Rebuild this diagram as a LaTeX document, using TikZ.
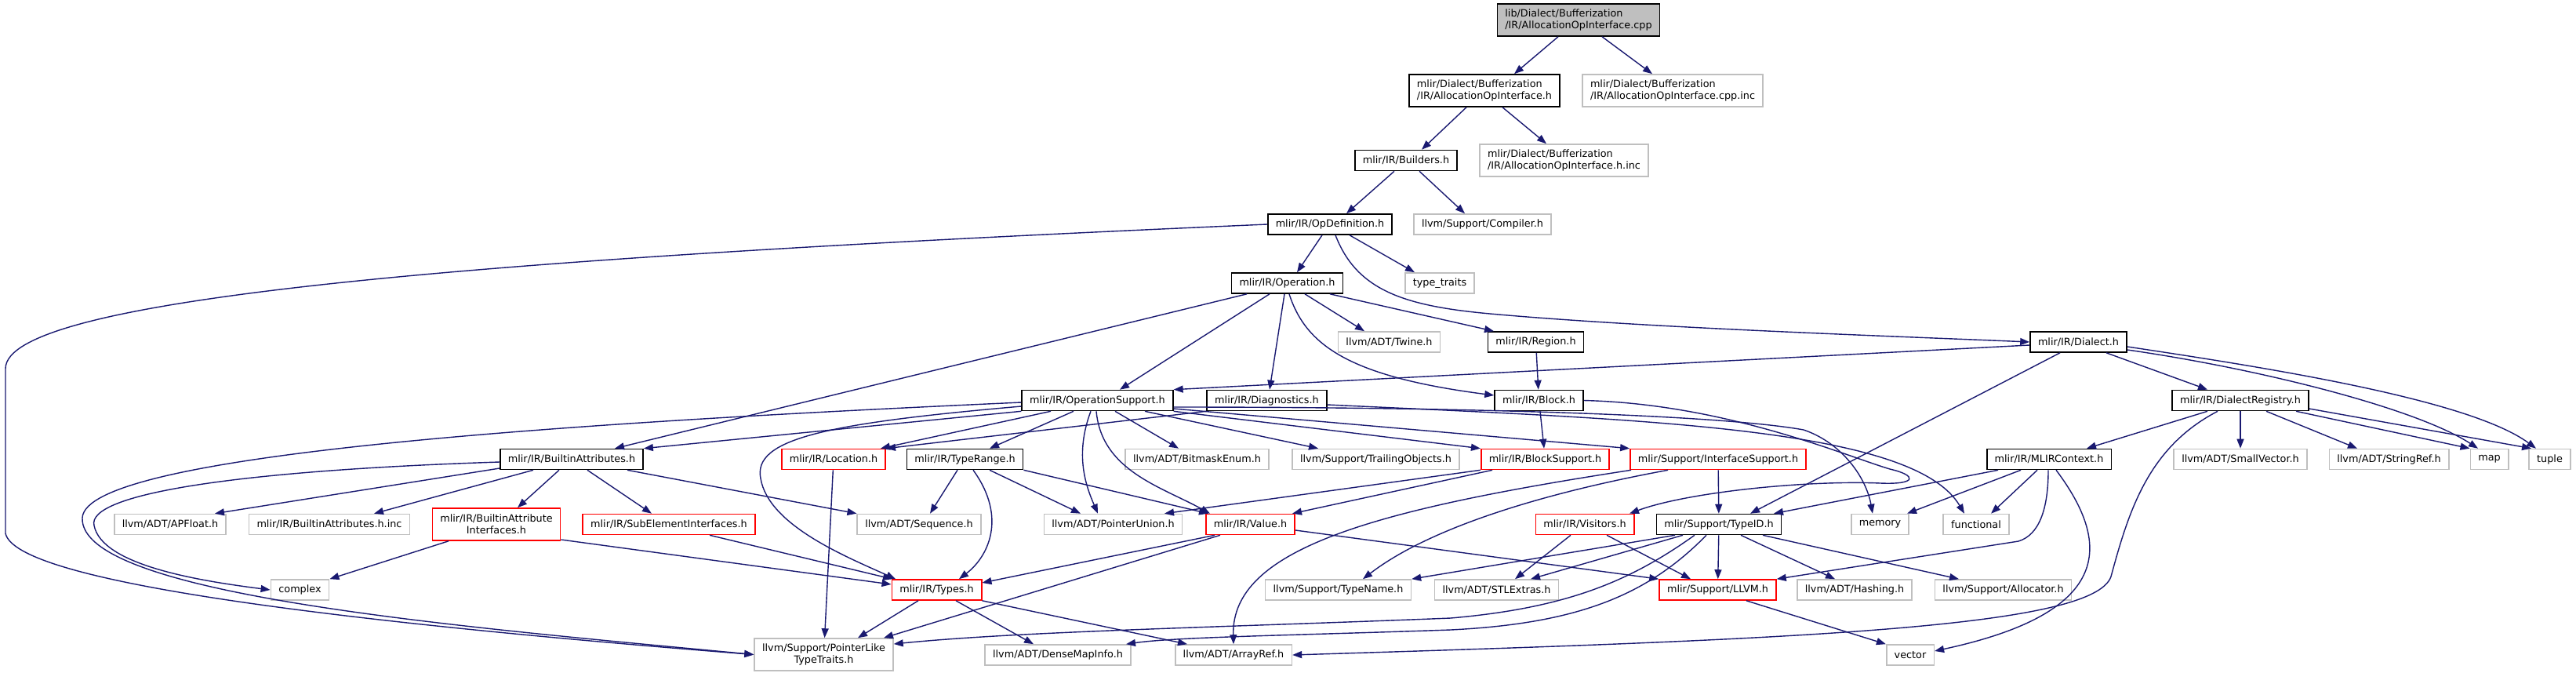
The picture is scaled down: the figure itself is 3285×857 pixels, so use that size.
\documentclass[tikz,border=0pt]{standalone}
\usepackage{fontspec}
\setmainfont{DejaVu Sans}
\usepackage{xcolor}
\usepackage{tikz}
\usetikzlibrary{arrows.meta,positioning}

\definecolor{edgeblue}{HTML}{191970}
\definecolor{boxgray}{HTML}{BFBFBF}
\definecolor{cutred}{HTML}{FF0000}

\begin{document}
\begin{tikzpicture}[x=0.5pt, y=-0.5pt,
        file/.style={rectangle, draw=black, line width=0.8pt, fill=white, inner xsep=5pt, inner ysep=0pt, minimum height=13pt, font=\fontsize{6.4}{7.6}\selectfont},
        extfile/.style={file, draw=boxgray},
        cutfile/.style={file, draw=cutred},
        rootfile/.style={file, fill=boxgray},
        twoline/.style={align=left, minimum height=20.5pt},
        twolinec/.style={align=center, minimum height=20.5pt},
        link/.style={-{Triangle[length=6pt,width=4.5pt]}, draw=edgeblue, line width=0.7pt}]

        \useasboundingbox (0,0) rectangle (3285,857);

        % Top of the graph
        \node[rootfile, twoline] (root) at (2013,25.5) {lib/Dialect/Bufferization\\/IR/AllocationOpInterface.cpp};
        \node[file, twoline] (aoih) at (1893,115.5) {mlir/Dialect/Bufferization\\/IR/AllocationOpInterface.h};
        \node[extfile, twoline] (cppinc) at (2133,115.5) {mlir/Dialect/Bufferization\\/IR/AllocationOpInterface.cpp.inc};
        \node[file] (builders) at (1793,204.5) {mlir/IR/Builders.h};
        \node[extfile, twoline] (hinc) at (1994.5,204.5) {mlir/Dialect/Bufferization\\/IR/AllocationOpInterface.h.inc};
        \node[file] (opdef) at (1696,286) {mlir/IR/OpDefinition.h};
        \node[extfile] (compiler) at (1890.5,286) {llvm/Support/Compiler.h};
        \node[file] (operation) at (1641.5,361) {mlir/IR/Operation.h};
        \node[extfile] (typetraits) at (1836,361) {type\_traits};
        \node[extfile] (twine) at (1771.5,436) {llvm/ADT/Twine.h};
        \node[file] (region) at (1958.5,436) {mlir/IR/Region.h};
        \node[file] (dialect) at (2650.5,436) {mlir/IR/Dialect.h};

        % Middle rows
        \node[file] (opsupport) at (1399.5,510.5) {mlir/IR/OperationSupport.h};
        \node[file] (diagnostics) at (1615.5,510.5) {mlir/IR/Diagnostics.h};
        \node[file] (block) at (1962.5,510.5) {mlir/IR/Block.h};
        \node[file] (registry) at (2857,510.5) {mlir/IR/DialectRegistry.h};

        \node[file] (attrs) at (729,585.5) {mlir/IR/BuiltinAttributes.h};
        \node[cutfile] (location) at (1063,585.5) {mlir/IR/Location.h};
        \node[file] (typerange) at (1230.5,585.5) {mlir/IR/TypeRange.h};
        \node[extfile] (bitmask) at (1526.5,585.5) {llvm/ADT/BitmaskEnum.h};
        \node[extfile] (trailing) at (1754.5,585.5) {llvm/Support/TrailingObjects.h};
        \node[cutfile] (blocksupport) at (1970.5,585.5) {mlir/IR/BlockSupport.h};
        \node[cutfile] (ifsupport) at (2191,585.5) {mlir/Support/InterfaceSupport.h};
        \node[file] (mlircontext) at (2613,585.5) {mlir/IR/MLIRContext.h};
        \node[extfile] (smallvector) at (2857,585.5) {llvm/ADT/SmallVector.h};
        \node[extfile] (stringref) at (3046.5,585.5) {llvm/ADT/StringRef.h};
        \node[extfile] (map) at (3174.5,585.5) {map};
        \node[extfile] (tuple) at (3251.5,585.5) {tuple};

        \node[extfile] (apfloat) at (217,668.5) {llvm/ADT/APFloat.h};
        \node[extfile] (attrsinc) at (420,668.5) {mlir/IR/BuiltinAttributes.h.inc};
        \node[cutfile, twolinec] (attriface) at (633,668.5) {mlir/IR/BuiltinAttribute\\Interfaces.h};
        \node[cutfile] (subelem) at (853,668.5) {mlir/IR/SubElementInterfaces.h};
        \node[extfile] (sequence) at (1172,668.5) {llvm/ADT/Sequence.h};
        \node[extfile] (pointerunion) at (1419.5,668.5) {llvm/ADT/PointerUnion.h};
        \node[cutfile] (value) at (1594.5,668.5) {mlir/IR/Value.h};
        \node[cutfile] (visitors) at (2021,668.5) {mlir/IR/Visitors.h};
        \node[file] (typeid) at (2192,668.5) {mlir/Support/TypeID.h};
        \node[extfile] (memory) at (2397.5,668.5) {memory};
        \node[extfile] (functional) at (2520,668.5) {functional};

        % Bottom rows
        \node[extfile] (complex) at (382.5,752) {complex};
        \node[cutfile] (types) at (1194.5,752) {mlir/IR/Types.h};
        \node[extfile] (typename) at (1706.5,752) {llvm/Support/TypeName.h};
        \node[extfile] (stlextras) at (1908.5,752) {llvm/ADT/STLExtras.h};
        \node[cutfile] (llvm) at (2190.5,752) {mlir/Support/LLVM.h};
        \node[extfile] (hashing) at (2365,752) {llvm/ADT/Hashing.h};
        \node[extfile] (allocator) at (2554.5,752) {llvm/Support/Allocator.h};

        \node[extfile, twolinec] (pointerlike) at (1050.5,834.5) {llvm/Support/PointerLike\\TypeTraits.h};
        \node[extfile] (densemap) at (1349,835) {llvm/ADT/DenseMapInfo.h};
        \node[extfile] (arrayref) at (1573,835) {llvm/ADT/ArrayRef.h};
        \node[extfile] (vector) at (2436,835) {vector};

        % Includes, top part
        \draw[link] (root.south -| 1987,0) -- (aoih.north -| 1931,0);
        \draw[link] (root.south -| 2043,0) -- (cppinc.north -| 2107,0);
        \draw[link] (aoih.south -| 1870,0) -- (builders.north -| 1813,0);
        \draw[link] (aoih.south -| 1916,0) -- (hinc.north -| 1972,0);
        \draw[link] (builders.south -| 1778,0) -- (opdef.north -| 1717,0);
        \draw[link] (builders.south -| 1810,0) -- (compiler.north -| 1868,0);
        \draw[link] (opdef.south -| 1686,0) -- (operation.north -| 1654,0);
        \draw[link] (opdef.south -| 1721,0) -- (typetraits.north -| 1804,0);
        \draw[link] (opdef.south -| 1703,0) .. controls (1730,370) and (1790,390) .. (1900,400) .. controls (2100,418) and (2400,428) .. (dialect.west);
        \draw[link] (opdef.west) .. controls (600,330) and (7,380) .. (7,470) -- (7,680) .. controls (20,740) and (400,790) .. (pointerlike.west);

        % Operation, Region, Dialect
        \draw[link] (operation.south -| 1590,0) -- (attrs.north -| 784,0);
        \draw[link] (operation.south -| 1619,0) -- (opsupport.north -| 1428,0);
        \draw[link] (operation.south -| 1638,0) -- (diagnostics.north -| 1619,0);
        \draw[link] (operation.south -| 1644,0) .. controls (1665,440) and (1720,480) .. (block.west |- 0,504);
        \draw[link] (operation.south -| 1664,0) -- (twine.north -| 1740,0);
        \draw[link] (operation.south -| 1696,0) -- (region.north -| 1905,0);
        \draw[link] (region) -- (block);
        \draw[link] (dialect.west |- 0,440) -- (opsupport.north east);
        \draw[link] (dialect.south -| 2686,0) -- (registry.north -| 2815,0);
        \draw[link] (dialect.south -| 2627,0) -- (typeid.north -| 2232,0);
        \draw[link] (dialect.east |- 0,442) .. controls (2900,470) and (3150,510) .. (tuple.north -| 3234,0);
        \draw[link] (dialect.east |- 0,446) .. controls (2880,470) and (3080,520) .. (map.north -| 3160,0);

        % DialectRegistry and MLIRContext
        \draw[link] (registry.south -| 2815,0) -- (mlircontext.north -| 2661,0);
        \draw[link] (registry.south -| 2828,0) .. controls (2740,570) and (2715,650) .. (2692,735) .. controls (2670,800) and (2300,815) .. (arrayref.east);
        \draw[link] (registry) -- (smallvector);
        \draw[link] (registry.south -| 2890,0) -- (stringref.north -| 3006,0);
        \draw[link] (registry.south -| 2928,0) -- (map.north west);
        \draw[link] (registry.east |- 0,521) -- (tuple.north -| 3228,0);
        \draw[link] (mlircontext.south -| 2548,0) -- (typeid.north -| 2262,0);
        \draw[link] (mlircontext.south -| 2577,0) -- (memory.north -| 2432,0);
        \draw[link] (mlircontext.south -| 2598,0) -- (functional.north -| 2539,0);
        \draw[link] (mlircontext.south -| 2612,0) .. controls (2612,650) and (2600,682) .. (2574,690) -- (llvm.north east);
        \draw[link] (mlircontext.south -| 2622,0) .. controls (2690,690) and (2700,780) .. (vector.east |- 0,830);

        % Block and Diagnostics
        \draw[link] (block) -- (blocksupport);
        \draw[link] (block.east) .. controls (2200,515) and (2350,580) .. (2410,598) .. controls (2445,606) and (2445,618) .. (2398,616) .. controls (2300,612) and (2150,628) .. (visitors.north -| 2078,0);
        \draw[link] (diagnostics.south west) -- (location.north east);
        \draw[link] (diagnostics.east |- 0,516) .. controls (2100,535) and (2440,545) .. (functional.north -| 2505,0);

        % OperationSupport
        \draw[link] (opsupport.east |- 0,519) .. controls (1900,519) and (2200,530) .. (2300,548) .. controls (2350,565) and (2380,610) .. (memory.north -| 2388,0);
        \draw[link] (opsupport.west |- 0,513) .. controls (700,540) and (110,580) .. (105,660) .. controls (100,760) and (600,800) .. (pointerlike.west);
        \draw[link] (opsupport.south west) -- (attrs.north east);
        \draw[link] (opsupport.west |- 0,518) .. controls (1050,540) and (960,560) .. (970,610) .. controls (980,670) and (1080,710) .. (types.north -| 1142,0);
        \draw[link] (opsupport.south -| 1340,0) -- (location.north -| 1123,0);
        \draw[link] (opsupport.south -| 1369,0) -- (typerange.north -| 1262,0);
        \draw[link] (opsupport.south -| 1422,0) -- (bitmask.north -| 1503,0);
        \draw[link] (opsupport.south -| 1460,0) -- (trailing.north -| 1681,0);
        \draw[link] (opsupport.south east) -- (blocksupport.north west);
        \draw[link] (opsupport.east |- 0,521) -- (ifsupport.north west);
        \draw[link] (opsupport.south -| 1391,0) .. controls (1370,580) and (1385,620) .. (pointerunion.north -| 1400,0);
        \draw[link] (opsupport.south -| 1398,0) .. controls (1405,600) and (1480,620) .. (value.north -| 1543,0);

        % BuiltinAttributes
        \draw[link] (attrs.west |- 0,597) -- (apfloat.north -| 274,0);
        \draw[link] (attrs.south -| 680,0) -- (attrsinc.north -| 477,0);
        \draw[link] (attrs.south -| 713,0) -- (attriface.north -| 660,0);
        \draw[link] (attrs.south -| 749,0) -- (subelem.north -| 831,0);
        \draw[link] (attrs.south -| 800,0) -- (sequence.north west);
        \draw[link] (attrs.west |- 0,589) .. controls (300,600) and (110,630) .. (120,670) .. controls (130,720) and (250,740) .. (complex.west);
        \draw[link] (attriface.south -| 572,0) -- (complex.north east);
        \draw[link] (attriface.east |- 0,688) -- (types.west |- 0,745);
        \draw[link] (subelem.south -| 905,0) -- (types.north -| 1138,0);
        \draw[link] (location) -- (pointerlike);

        % TypeRange, BlockSupport, InterfaceSupport
        \draw[link] (typerange.south -| 1221,0) -- (sequence.north -| 1186,0);
        \draw[link] (typerange.south -| 1241,0) .. controls (1285,660) and (1260,710) .. (types.north -| 1223,0);
        \draw[link] (typerange.south -| 1262,0) -- (pointerunion.north -| 1378,0);
        \draw[link] (typerange.south east) -- (value.north -| 1541,0);
        \draw[link] (blocksupport.south west) -- (pointerunion.north -| 1485,0);
        \draw[link] (blocksupport.south -| 1903,0) -- (value.north -| 1648,0);
        \draw[link] (ifsupport.south -| 2127,0) .. controls (1960,630) and (1820,675) .. (typename.north -| 1738,0);
        \draw[link] (ifsupport.south -| 2080,0) .. controls (1750,650) and (1570,700) .. (arrayref.north -| 1573,0);
        \draw[link] (ifsupport) -- (typeid);

        % Value, Types, Visitors
        \draw[link] (value.south -| 1549,0) -- (types.east |- 0,743);
        \draw[link] (value.south -| 1556,0) -- (pointerlike.north -| 1127,0);
        \draw[link] (value.east |- 0,676) -- (llvm.north west);
        \draw[link] (types.south -| 1171,0) -- (pointerlike.north -| 1094,0);
        \draw[link] (types.south -| 1219,0) -- (densemap.north -| 1318,0);
        \draw[link] (types.south east) -- (arrayref.north -| 1514,0);
        \draw[link] (visitors.south -| 2003,0) -- (stlextras.north -| 1932,0);
        \draw[link] (visitors.south -| 2049,0) -- (llvm.north -| 2156,0);

        % TypeID and LLVM
        \draw[link] (typeid.south -| 2136,0) -- (typename.north east);
        \draw[link] (typeid.south -| 2146,0) -- (stlextras.north -| 1952,0);
        \draw[link] (typeid.south -| 2161,0) .. controls (2080,740) and (2000,775) .. (1850,788) .. controls (1550,800) and (1300,805) .. (pointerlike.east |- 0,821);
        \draw[link] (typeid.south -| 2176,0) .. controls (2100,760) and (2010,795) .. (1850,803) .. controls (1650,810) and (1500,812) .. (densemap.north -| 1436,0);
        \draw[link] (typeid) -- (llvm);
        \draw[link] (typeid.south -| 2220,0) -- (hashing.north -| 2340,0);
        \draw[link] (typeid.south -| 2248,0) -- (allocator.north -| 2498,0);
        \draw[link] (llvm.south -| 2227,0) -- (vector.north west);
    \end{tikzpicture}
\end{document}
